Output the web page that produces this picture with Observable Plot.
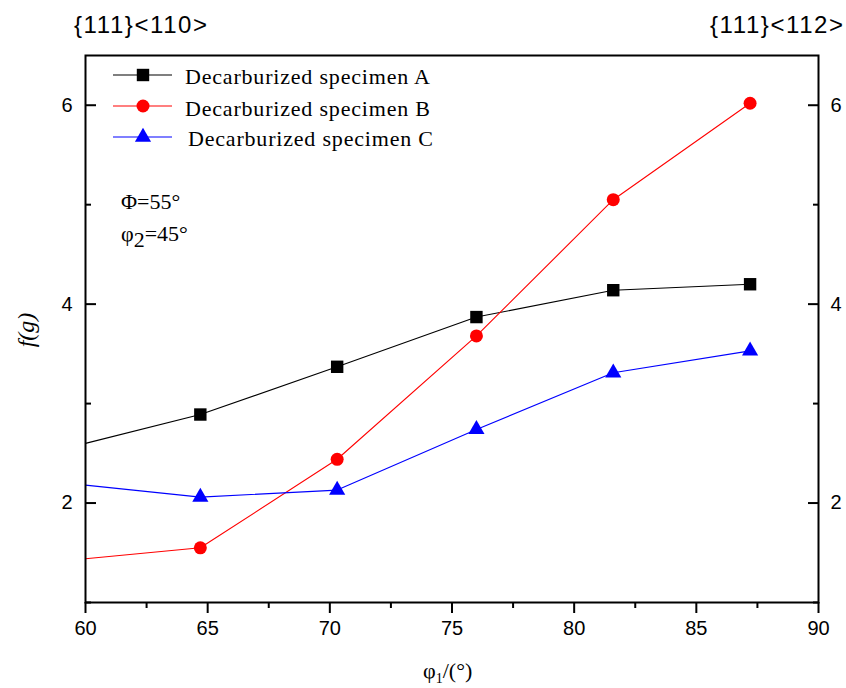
<!DOCTYPE html>
<html><head><meta charset="utf-8">
<script src="https://cdn.jsdelivr.net/npm/d3@7"></script>
<script src="https://cdn.jsdelivr.net/npm/@observablehq/plot@0.6"></script>
<style>body{margin:0;background:#fff} #chart{width:846px;height:688px}</style>
</head><body><div id="chart"></div>
<script>
const phi1 = [60, 64.7, 70.3, 76.0, 81.6, 87.2];
const specimenA = [2.60, 2.89, 3.37, 3.87, 4.14, 4.20];
const specimenB = [1.44, 1.55, 2.44, 3.68, 5.05, 6.02];
const specimenC = [2.18, 2.06, 2.13, 2.74, 3.31, 3.53];
const hasMarker = [false, true, true, true, true, true];
const seriesNames = ["Decarburized specimen A", "Decarburized specimen B", "Decarburized specimen C"];
const seriesColors = ["#000000", "#ff0000", "#0000ff"];
const seriesSymbols = ["square", "circle", "triangle"];
const seriesRadius = [7, 6.5, 6];
const xTicks = [60, 65, 70, 75, 80, 85, 90];
const xMinor = [62.5, 67.5, 72.5, 77.5, 82.5, 87.5];
const yTicks = [2, 4, 6];
const yMinor = [1, 3, 5];
const topLeftLabel = "{111}<110>";
const topRightLabel = "{111}<112>";

const allValues = [specimenA, specimenB, specimenC];
const data = [];
allValues.forEach((vals, s) => vals.forEach((v, i) => data.push({series: seriesNames[s], x: phi1[i], y: v, marker: hasMarker[i]})));

const sans = "'Liberation Sans', Arial, sans-serif";
const serif = "'Liberation Serif', 'Times New Roman', serif";

const marks = [];
seriesNames.forEach((name, s) => {
  const d = data.filter(p => p.series === name);
  marks.push(Plot.line(d, {x: "x", y: "y", stroke: seriesColors[s], strokeWidth: 1.1}));
  marks.push(Plot.dot(d.filter(p => p.marker), {x: "x", y: "y", fill: seriesColors[s], stroke: "none", symbol: () => seriesSymbols[s], r: seriesRadius[s]}));
});

const svg = Plot.plot({
  width: 846, height: 688,
  marginLeft: 85, marginRight: 28, marginTop: 55, marginBottom: 86,
  style: {fontFamily: sans, fontSize: "20px", color: "#000", background: "#fff"},
  x: {domain: [60, 90], label: null},
  y: {domain: [1, 6.5], label: null},
  marks: [
    ...marks,
    Plot.frame({stroke: "#000", strokeWidth: 2}),
    Plot.axisX({ticks: xTicks, tickSize: 11, tickPadding: 7, strokeWidth: 2, tickFormat: d => String(d), fontSize: 20, label: null}),
    Plot.axisX({ticks: xMinor, tickSize: 6, strokeWidth: 2, tickFormat: () => "", label: null}),
    Plot.axisY({anchor: "left", ticks: yTicks, tickSize: 0, tickPadding: 13, tickFormat: d => String(d), fontSize: 20, label: null}),
    Plot.axisY({anchor: "left", ticks: yTicks, tickSize: -11, strokeWidth: 2, tickFormat: () => "", label: null}),
    Plot.axisY({anchor: "left", ticks: yMinor, tickSize: -6, strokeWidth: 2, tickFormat: () => "", label: null}),
    Plot.axisY({anchor: "right", ticks: yTicks, tickSize: 0, tickPadding: 12, tickFormat: d => String(d), fontSize: 20, label: null}),
    Plot.axisY({anchor: "right", ticks: yTicks, tickSize: -11, strokeWidth: 2, tickFormat: () => "", label: null}),
    Plot.axisY({anchor: "right", ticks: yMinor, tickSize: -6, strokeWidth: 2, tickFormat: () => "", label: null})
  ]
});
document.getElementById("chart").appendChild(svg);

const g = d3.select(svg).append("g").attr("text-anchor", "start");
// top labels
g.append("text").attr("x", 74).attr("y", 33).attr("font-family", sans).attr("font-size", 24).attr("textLength", 133).attr("fill", "#000").text(topLeftLabel);
g.append("text").attr("x", 710).attr("y", 33).attr("font-family", sans).attr("font-size", 24).attr("textLength", 133).attr("fill", "#000").text(topRightLabel);

// legend
const legendY = [75, 106, 137];
const legendTextY = [84, 116, 146];
const legendTextX = [185, 185, 188];
seriesNames.forEach((name, s) => {
  const y = legendY[s];
  g.append("line").attr("x1", 113).attr("x2", 172).attr("y1", y).attr("y2", y).attr("stroke", seriesColors[s]).attr("stroke-width", 1.1);
  const sym = {square: d3.symbolSquare, circle: d3.symbolCircle, triangle: d3.symbolTriangle}[seriesSymbols[s]];
  g.append("path").attr("transform", `translate(143,${y})`).attr("d", d3.symbol(sym, seriesRadius[s] * seriesRadius[s] * Math.PI)()).attr("fill", seriesColors[s]);
  g.append("text").attr("x", legendTextX[s]).attr("y", legendTextY[s]).attr("font-family", serif).attr("font-size", 22).attr("textLength", 245).attr("fill", "#000").text(name);
});

// annotations
g.append("text").attr("x", 121).attr("y", 209).attr("font-family", serif).attr("font-size", 22).attr("fill", "#000").text("Φ=55°");
const ann2 = g.append("text").attr("x", 121).attr("y", 241).attr("font-family", serif).attr("font-size", 22).attr("fill", "#000");
ann2.append("tspan").text("φ");
ann2.append("tspan").attr("dy", 6).text("2");
ann2.append("tspan").attr("dy", -6).text("=45°");

// axis titles
const xl = g.append("text").attr("x", 423).attr("y", 678).attr("font-family", serif).attr("font-size", 22).attr("fill", "#000");
xl.append("tspan").text("φ");
xl.append("tspan").attr("dy", 5).attr("font-size", 14).text("1");
xl.append("tspan").attr("dy", -5).text("/(°)");
g.append("text").attr("transform", "translate(34,330) rotate(-90)").attr("text-anchor", "middle").attr("font-family", serif).attr("font-style", "italic").attr("font-size", 24).attr("fill", "#000").text("f(g)");
</script>
</body></html>
